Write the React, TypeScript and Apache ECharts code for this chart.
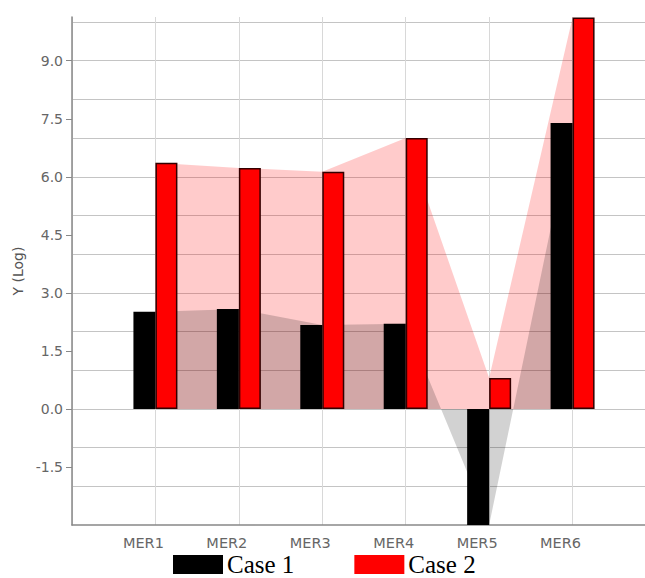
import React, { useEffect, useRef } from "react";
import * as echarts from "echarts";

const categories = ["MER1", "MER2", "MER3", "MER4", "MER5", "MER6"];
const case1Values = [2.51, 2.58, 2.17, 2.2, -3.0, 7.39];
const case2Values = [6.36, 6.23, 6.13, 7.0, 0.8, 10.12];
const seriesNames = ["Case 1", "Case 2"];
const yMin = -3;
const yMax = 10.13;
const yLabelStep = 1.5;
const yGridStep = 1;

const pad = (arr: (number | string)[]) => ["-", ...arr, "-"];

export default function App() {
  const ref = useRef<HTMLDivElement>(null);
  useEffect(() => {
    if (!ref.current) return;
    const chart = echarts.init(ref.current, null, { renderer: "svg" });
    const xData = ["", ...categories, ""];
    const font = "DejaVu Sans";
    chart.setOption({
      animation: false,
      backgroundColor: "#fff",
      grid: { left: 72, top: 17, width: 584, height: 508 },
      legend: {
        data: [
          { name: seriesNames[0], itemStyle: { borderWidth: 0 } },
          { name: seriesNames[1], itemStyle: { borderWidth: 0 } },
        ],
        left: 173,
        top: 552,
        padding: 0,
        itemWidth: 50,
        itemHeight: 19,
        itemGap: 60,
        icon: "rect",
        textStyle: { fontFamily: "Liberation Serif", fontSize: 25, color: "#000", lineHeight: 25, padding: [0, 0, 0, -1] },
      },
      xAxis: {
        type: "category",
        data: xData,
        boundaryGap: false,
        axisLine: { onZero: false, lineStyle: { color: "#888", width: 1.5 } },
        axisTick: { show: false },
        axisLabel: {
          interval: 0,
          margin: 10,
          padding: [0, 24, 0, 0],
          color: "#666",
          fontSize: 14.5,
          fontFamily: font,
        },
        splitLine: { show: true, lineStyle: { color: "#d8d8d8", width: 1 } },
      },
      yAxis: [
        {
          type: "value",
          min: yMin,
          max: yMax,
          interval: yLabelStep,
          name: "Y (Log)",
          nameLocation: "middle",
          nameGap: 41,
          nameTextStyle: { color: "#555", fontSize: 14, fontFamily: font },
          axisLine: { show: true, lineStyle: { color: "#888", width: 1.5 } },
          axisTick: { show: true, length: 6, lineStyle: { color: "#888" } },
          axisLabel: {
            showMinLabel: false,
            showMaxLabel: false,
            margin: 9,
            color: "#666",
            fontSize: 14,
            fontFamily: font,
            formatter: (v: number) => v.toFixed(1),
          },
          splitLine: { show: false },
        },
        {
          type: "value",
          min: yMin,
          max: yMax,
          interval: yGridStep,
          position: "left",
          axisLine: { show: false },
          axisTick: { show: false },
          axisLabel: { show: false },
          splitLine: {
            show: true,
            showMinLine: false,
            showMaxLine: false,
            lineStyle: { color: "#c4c4c4", width: 1 },
          },
        },
      ],
      series: [
        {
          name: "Case 2 area",
          type: "line",
          data: pad(case2Values),
          showSymbol: false,
          symbol: "none",
          lineStyle: { width: 0, opacity: 0 },
          areaStyle: { color: "rgba(255,0,0,0.29)" },
          z: 1,
          silent: true,
        },
        {
          name: "Case 1 area",
          type: "line",
          data: pad(case1Values),
          showSymbol: false,
          symbol: "none",
          lineStyle: { width: 0, opacity: 0 },
          areaStyle: { color: "rgba(0,0,0,0.25)" },
          z: 1,
          silent: true,
        },
        {
          name: seriesNames[0],
          type: "bar",
          data: pad(case1Values),
          barWidth: 22,
          barGap: "0%",
          itemStyle: { color: "#000" },
          z: 3,
        },
        {
          name: seriesNames[1],
          type: "bar",
          data: pad(case2Values),
          barWidth: 22,
          barGap: "0%",
          itemStyle: { color: "#ff0000", borderColor: "#300", borderWidth: 1.5 },
          z: 3,
        },
      ],
    });
    return () => chart.dispose();
  }, []);
  return (
    <div style={{ position: "absolute", left: 0, top: 0, width: 645, height: 578, overflow: "hidden" }}>
      <div ref={ref} style={{ width: 665, height: 578 }} />
    </div>
  );
}
